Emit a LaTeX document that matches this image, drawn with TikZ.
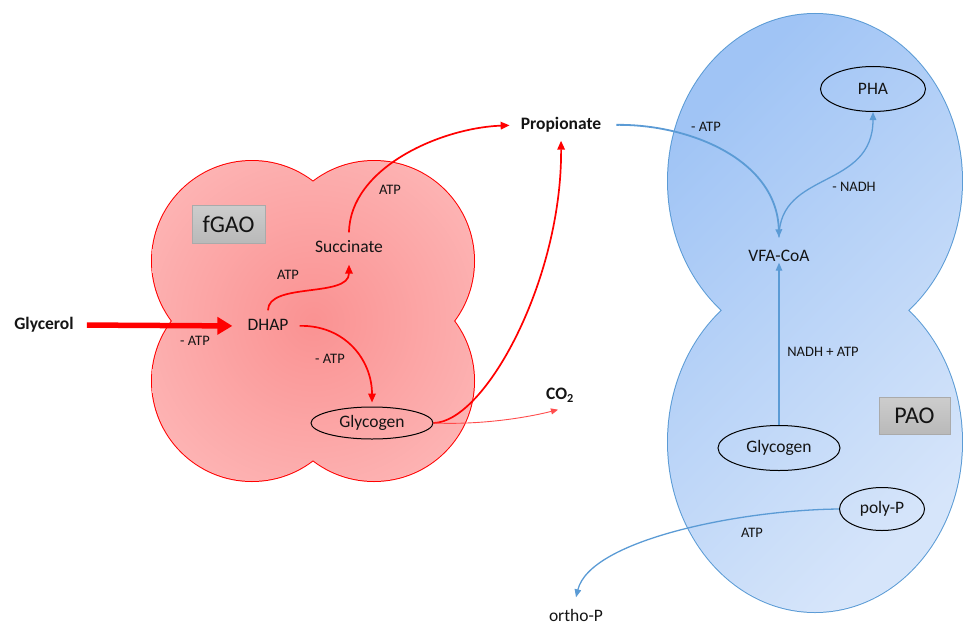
\documentclass[tikz,border=0pt]{standalone}
\usepackage{fontspec}
\setmainfont{Carlito}
\usetikzlibrary{arrows.meta,shapes.geometric}
\definecolor{fgin}{RGB}{250,146,146}
\definecolor{fgout}{RGB}{255,203,203}
\definecolor{paoA}{RGB}{160,196,245}
\definecolor{paoB}{RGB}{214,229,250}
\definecolor{paoline}{RGB}{91,155,213}
\definecolor{boxtop}{RGB}{205,205,205}
\definecolor{boxbot}{RGB}{185,185,185}
\definecolor{boxline}{RGB}{170,170,170}
\definecolor{txt}{RGB}{20,20,20}
\pgfdeclareradialshading{fgaoshade}{\pgfpoint{0bp}{0bp}}{color(0bp)=(fgin); color(50bp)=(fgout); color(75bp)=(fgout)}
\begin{document}
\begin{tikzpicture}[x=1pt,y=-1pt,
  lbl/.style={inner sep=3pt, text height=12pt, text depth=3pt, text=txt, font=\fontsize{17.5}{20}\selectfont},
  blbl/.style={lbl, font=\fontsize{17.5}{20}\selectfont\bfseries},
  small/.style={inner sep=0pt, text=txt, font=\fontsize{14.5}{16}\selectfont},
  oval/.style={ellipse, draw=black, line width=1pt, inner sep=0pt, text=txt, font=\fontsize{17.5}{20}\selectfont},
  tag/.style={draw=boxline, line width=0.8pt, top color=boxtop, bottom color=boxbot, inner sep=0pt, text=txt, font=\fontsize{24}{28}\selectfont},
  redarr/.style={draw=red, line width=1.7pt, -{Triangle[length=9pt,width=7.5pt]}},
  bluearr/.style={draw=paoline, line width=1.3pt, -{Triangle[length=8pt,width=6.5pt]}},
]
\useasboundingbox (0,0) rectangle (963,626);

% fGAO cell
\draw[red, line width=2pt] (252,261) circle[radius=100pt] (374,261) circle[radius=100pt]
  (252,381) circle[radius=100pt] (374,381) circle[radius=100pt];
\shade[shading=fgaoshade] (252,261) circle[radius=100pt] (374,261) circle[radius=100pt]
  (252,381) circle[radius=100pt] (374,381) circle[radius=100pt];

% PAO cell
\draw[paoline, line width=2pt] (815,181) ellipse[x radius=147pt, y radius=167pt]
  (815,442) ellipse[x radius=147pt, y radius=170pt];
\shade[top color=paoA, bottom color=paoB, shading angle=45] (815,181) ellipse[x radius=147pt, y radius=167pt]
  (815,442) ellipse[x radius=147pt, y radius=170pt];

% boxes
\node[tag, minimum width=73pt, minimum height=38pt] (fgaobox) at (228.5,224) {fGAO};
\node[tag, minimum width=71pt, minimum height=37pt] (paobox) at (914.5,415.5) {PAO};

% nodes
\node[blbl] (glycerol) at (44,325) {Glycerol};
\node[lbl] (dhap) at (268,326) {DHAP};
\node[lbl] (succ) at (349,248) {Succinate};
\node[blbl] (prop) at (561,125) {Propionate};
\node[blbl] (co2) at (560,395) {CO\textsubscript{2}};
\node[oval, minimum width=122pt, minimum height=32pt] (glyF) at (372,423) {Glycogen};
\node[lbl] (vfa) at (779,257) {VFA-CoA};
\node[oval, minimum width=105pt, minimum height=45pt] (pha) at (873,89) {PHA};
\node[oval, minimum width=122pt, minimum height=45pt] (glyP) at (779,448) {Glycogen};
\node[oval, minimum width=85pt, minimum height=43pt] (polyp) at (882,509) {poly-P};
\node[lbl] (ortho) at (576,617) {ortho-P};

% small labels
\node[small] (l1) at (195,341) {- ATP};
\node[small] (l2) at (288,275) {ATP};
\node[small] (l3) at (390,190) {ATP};
\node[small] (l4) at (330,359) {- ATP};
\node[small] (l5) at (706,127) {- ATP};
\node[small] (l6) at (854,187) {- NADH};
\node[small] (l7) at (823,352) {NADH + ATP};
\node[small] (l8) at (752,533) {ATP};

% fGAO connectors
\draw[red, line width=5.5pt, -{Triangle[length=15pt,width=17pt]}, shorten <=10pt, shorten >=12pt]
  (glycerol.east) -- (dhap.west);
\draw[redarr] ([yshift=5pt]dhap.north) .. controls (268,282) and (349,298) .. ([yshift=-6pt]succ.south);
\draw[redarr, shorten >=8pt] ([yshift=5pt]succ.north) .. controls (350,168) and (440,128) .. (prop.west);
\draw[redarr, shorten <=8pt] (dhap.east) .. controls (345,325) and (372,360) .. ([yshift=4pt]glyF.north);
\draw[redarr, shorten >=5pt] (glyF.east) .. controls (485,422) and (562,280) .. (prop.south);
\draw[red!70, line width=0.9pt, -{Triangle[length=7pt,width=6pt]}]
  (glyF.east) .. controls (480,425) and (525,418) .. ([yshift=-4pt,xshift=-2pt]co2.south);

% PAO connectors
\draw[bluearr, line width=1.8pt, shorten <=12pt] (prop.east) .. controls (690,124) and (777,160) .. ([yshift=9pt]vfa.north);
\draw[bluearr] ([yshift=9pt]vfa.north) .. controls (779,170) and (873,190) .. (pha.south);
\draw[bluearr] (glyP.north) -- ([yshift=5pt]vfa.south);
\draw[bluearr] (polyp.west) .. controls (740,510) and (590,540) .. ([yshift=9pt]ortho.north);
\end{tikzpicture}
\end{document}
